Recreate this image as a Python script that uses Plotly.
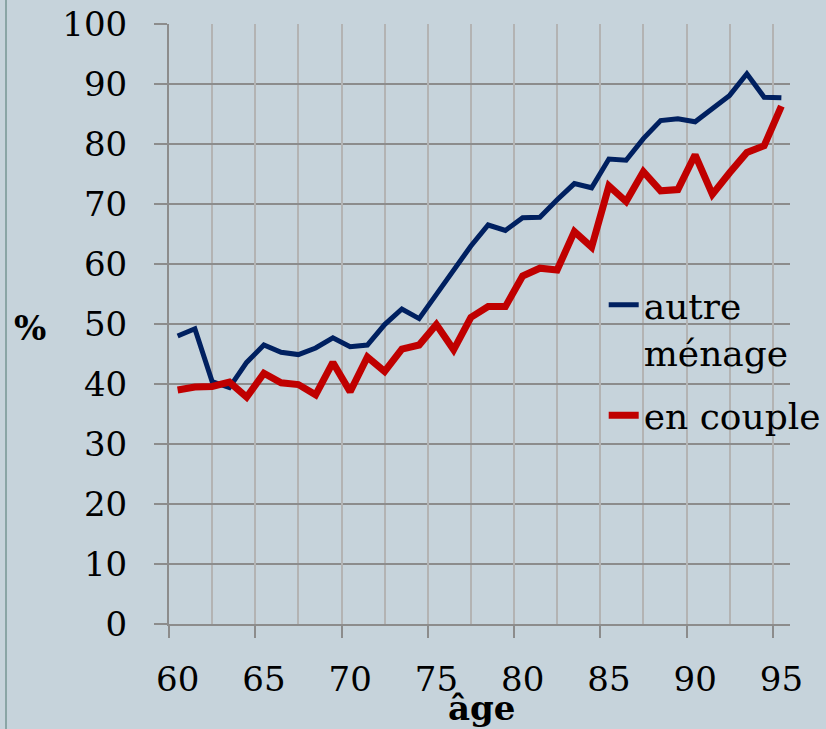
import plotly.graph_objects as go

ages = list(range(60, 96))
autre_menage = [48.0, 49.2, 40.4, 39.4, 43.6, 46.5, 45.3, 44.9, 46.0, 47.7,
                46.2, 46.5, 49.9, 52.5, 50.9, 54.9, 59.1, 63.0, 66.5, 65.6,
                67.7, 67.8, 70.7, 73.4, 72.7, 77.5, 77.3, 80.9, 83.9, 84.2,
                83.7, 86.0, 88.1, 91.7, 87.8, 87.7]
en_couple = [39.0, 39.5, 39.6, 40.3, 37.8, 41.8, 40.2, 39.9, 38.2, 43.6,
             38.7, 44.5, 42.1, 45.8, 46.5, 49.9, 45.7, 51.1, 52.9, 52.9,
             58.0, 59.3, 59.0, 65.4, 62.8, 73.0, 70.4, 75.4, 72.2, 72.4,
             78.2, 71.6, 75.2, 78.6, 79.7, 86.3]
x_ticks = [60, 65, 70, 75, 80, 85, 90, 95]
y_ticks = [0, 10, 20, 30, 40, 50, 60, 70, 80, 90, 100]

FONT = "DejaVu Serif"
BG = "#c6d3db"

fig = go.Figure()
fig.add_trace(go.Scatter(x=ages, y=autre_menage, mode="lines", name="autre<br>ménage",
                         line=dict(color="#002060", width=5), legendgroup="a"))
fig.add_trace(go.Scatter(x=ages, y=en_couple, mode="lines", name="en couple",
                         line=dict(color="#c00000", width=7), legendgroup="b"))
# invisible trace for the overlay axis carrying grid and boundary ticks
fig.add_trace(go.Scatter(x=[59.5, 95.5], y=[0, 0], xaxis="x2", mode="lines",
                         line=dict(width=0), showlegend=False, hoverinfo="skip"))

fig.update_layout(
    width=826, height=729,
    margin=dict(l=169, r=36, t=24, b=105, autoexpand=False),
    paper_bgcolor=BG, plot_bgcolor=BG,
    font=dict(family=FONT, size=34, color="black"),
    showlegend=True,
    legend=dict(x=0.70, y=0.582, xanchor="left", yanchor="top",
                bgcolor="rgba(0,0,0,0)", valign="top", tracegroupgap=14,
                font=dict(family=FONT, size=36, color="black")),
    xaxis=dict(range=[59.5, 95.5], tickmode="array", tickvals=x_ticks,
               showgrid=False, zeroline=False, ticks="", showline=False,
               automargin=False,
               ticklabelstandoff=32, tickfont=dict(size=34)),
    xaxis2=dict(range=[59.5, 95.5], overlaying="x", side="bottom",
                tick0=59.5, dtick=5, showticklabels=False, automargin=False,
                showgrid=True, gridcolor="#b3b3b3", gridwidth=2,
                ticks="outside", ticklen=12, tickwidth=2, tickcolor="#8c8c8c",
                showline=True, linecolor="#8c8c8c", linewidth=2, zeroline=False,
                minor=dict(tick0=62, dtick=5, showgrid=True, gridcolor="#b3b3b3",
                           gridwidth=2, ticks="")),
    yaxis=dict(range=[0, 100], tickmode="array", tickvals=y_ticks,
               showgrid=True, gridcolor="#8c8c8c", gridwidth=2, automargin=False,
               ticks="outside", ticklen=13, tickwidth=2, tickcolor="#8c8c8c",
               showline=True, linecolor="#8c8c8c", linewidth=2, zeroline=False,
               ticklabelstandoff=20, tickfont=dict(size=34)),
    annotations=[
        dict(text="<b>%</b>", xref="paper", yref="paper", x=-0.224, y=0.493,
             xanchor="center", yanchor="middle",
             showarrow=False, font=dict(family=FONT, size=34)),
        dict(text="<b>âge</b>", xref="paper", yref="paper", x=0.504, y=-0.14,
             xanchor="center", yanchor="middle",
             showarrow=False, font=dict(family=FONT, size=34)),
    ],
    shapes=[
        dict(type="line", xref="paper", yref="paper", xsizemode="pixel",
             xanchor=0, x0=-163, x1=-163, y0=-0.2, y1=1.1,
             line=dict(color="#8aa5a5", width=2)),
    ],
)

fig.write_html("out.html", config={"displayModeBar": False},
               post_script="document.body.style.margin='0';document.body.style.overflow='hidden';")
